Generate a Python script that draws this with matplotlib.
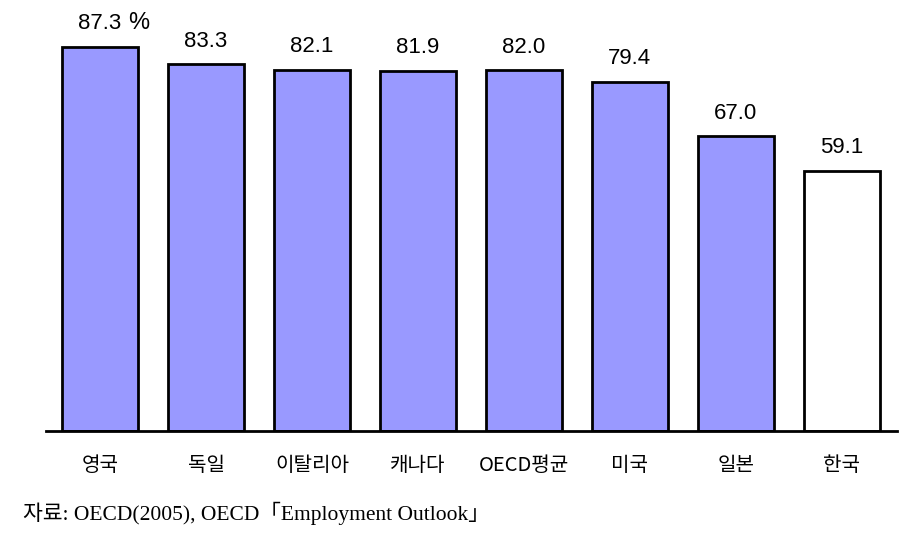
#!/usr/bin/env python3
# plot.py
# Bar chart of rates by country (OECD 2005)

import matplotlib
matplotlib.use('Agg')
import matplotlib.pyplot as plt
import numpy as np

############
# Data
############

countries = ['영국', '독일', '이탈리아', '캐나다', 'OECD평균', '미국', '일본', '한국']
values = [87.3, 83.3, 82.1, 81.9, 82.0, 79.4, 67.0, 59.1]
value_labels = ['87.3', '83.3', '82.1', '81.9', '82.0', '79.4', '67.0', '59.1']
highlight = '한국'
source_text = '자료: OECD(2005), OECD「Employment Outlook」'

############
# Graph
############

num_font = ['Liberation Sans', 'DejaVu Sans']
kor_font = ['Noto Sans CJK KR', 'DejaVu Sans']
src_font = ['Liberation Serif', 'Noto Sans CJK KR']

W, H = 916, 534
fig = plt.figure(figsize=(W / 100, H / 100), dpi=100)
ax = fig.add_axes([46 / W, 103 / H, (897 - 46) / W, 421 / H])

x = np.arange(len(countries))
colors = ['white' if c == highlight else '#9999ff' for c in countries]
bars = ax.bar(x, values, width=0.72, color=colors, edgecolor='black', linewidth=2)

ax.set_xlim(-0.51, 7.52)
ax.set_ylim(0, 421 / 4.40)

for spine in ['top', 'right', 'left']:
    ax.spines[spine].set_visible(False)
ax.spines['bottom'].set_linewidth(2)
ax.set_yticks([])
ax.set_xticks(x)
ax.set_xticklabels(countries, family=kor_font, fontsize=14.5)
ax.tick_params(axis='x', length=0, pad=17)

# value labels above bars
for xi, v, lab in zip(x, values, value_labels):
    ax.annotate(lab, (xi, v), xytext=(0, 9), textcoords='offset points',
                ha='center', va='bottom', fontsize=16, family=num_font)

# percent sign next to first label
ax.annotate('%', (x[0], values[0]), xytext=(20, 9), textcoords='offset points',
            ha='left', va='bottom', fontsize=17, family=num_font)

fig.text(23 / W, 1 - 513 / H, source_text, family=src_font, fontsize=15.5,
         ha='left', va='center')

fig.savefig('out.png', dpi=100)
